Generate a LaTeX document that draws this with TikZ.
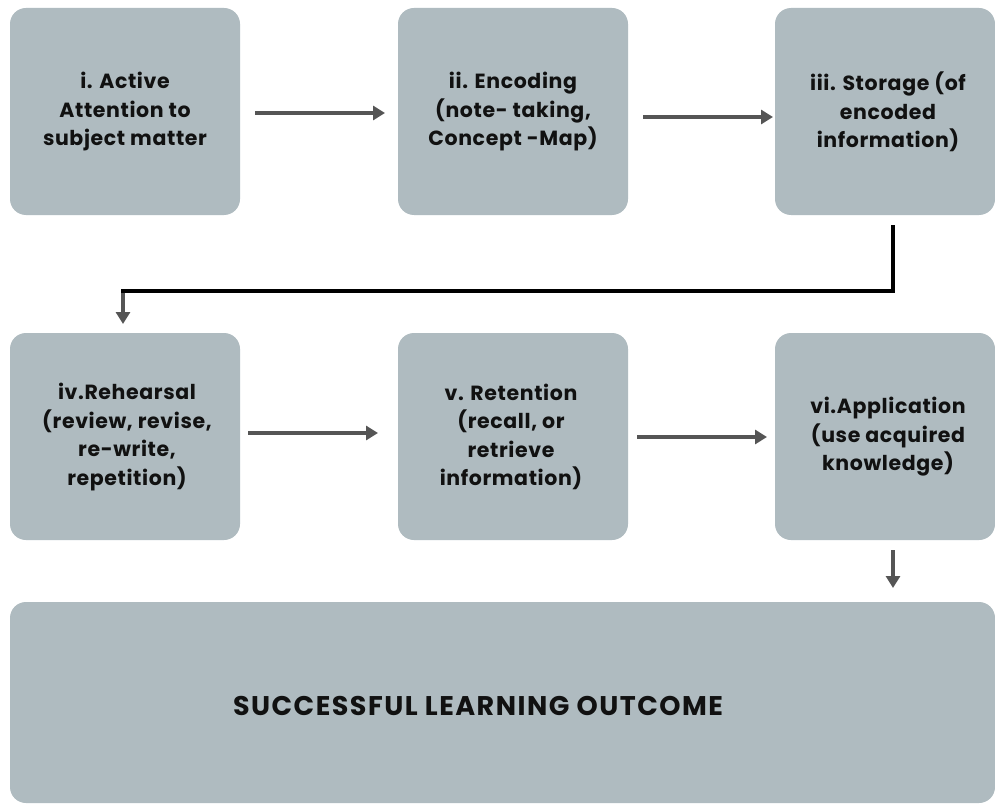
\documentclass[tikz,border=0pt]{standalone}
\usepackage{fontspec}
\setmainfont{Poppins}
\usetikzlibrary{arrows.meta}
\definecolor{boxfill}{HTML}{AFBBC0}
\definecolor{arrowgray}{HTML}{555555}
\definecolor{textdark}{HTML}{111111}
\begin{document}
\begin{tikzpicture}[x=1pt,y=-1pt,
  stagebox/.style={fill=boxfill,rounded corners=16pt,draw=none},
  stagetext/.style={align=center,text=textdark,inner sep=0pt,
    font=\bfseries\fontsize{20.5}{28.5}\selectfont\addfontfeatures{LetterSpace=3}},
  outcometext/.style={align=center,text=textdark,inner sep=0pt,
    font=\bfseries\fontsize{27}{30}\selectfont\addfontfeatures{LetterSpace=5.5}},
  flow/.style={draw=arrowgray,line width=3.6pt,-{Triangle[length=12pt,width=14pt]}},
  link/.style={draw=black,line width=3.6pt}]
\useasboundingbox (0,0) rectangle (995,805);
\fill[white] (0,0) rectangle (995,805);

% stage boxes
\path[stagebox] (10,8) rectangle (240,215);
\path[stagebox] (398,8) rectangle (628,215);
\path[stagebox] (775,8) rectangle (995,215);
\path[stagebox] (10,333) rectangle (240,540);
\path[stagebox] (398,333) rectangle (628,540);
\path[stagebox] (775,333) rectangle (995,540);
\path[stagebox] (10,602) rectangle (995,803);

% stage labels
\node[stagetext] (s1) at (125,112) {i. Active\\Attention to\\subject matter};
\node[stagetext] (s2) at (513,112) {ii. Encoding\\(note- taking,\\Concept -Map)};
\node[stagetext] (s3) at (888,112) {iii. Storage (of\\encoded\\information)};
\node[stagetext] (s4) at (127,437) {iv.Rehearsal\\(review, revise,\\re-write,\\repetition)};
\node[stagetext] (s5) at (511,437) {v. Retention\\(recall, or\\retrieve\\information)};
\node[stagetext] (s6) at (888,437) {vi.Application\\(use acquired\\knowledge)};
\node[outcometext] (s7) at (478,706) {SUCCESSFUL LEARNING OUTCOME};

% connector end points
\coordinate (a1s) at (255,113); \coordinate (a1e) at (385,113);
\coordinate (a2s) at (643,117); \coordinate (a2e) at (773,117);
\coordinate (a4s) at (248,433); \coordinate (a4e) at (378,433);
\coordinate (a5s) at (637,437); \coordinate (a5e) at (767,437);
\coordinate (a6s) at (893,550); \coordinate (a6e) at (893,588);
\coordinate (r0) at (893,225); \coordinate (r1) at (893,291);
\coordinate (r2) at (123,291); \coordinate (r3) at (123,324);

% arrows
\draw[flow] (a1s) -- (a1e);
\draw[flow] (a2s) -- (a2e);
\draw[flow] (a4s) -- (a4e);
\draw[flow] (a5s) -- (a5e);
\draw[flow] (a6s) -- (a6e);
\draw[link] (r0) -- (r1) -- ([xshift=-1.8pt]r2);
\draw[flow] ([yshift=-1.8pt]r2) -- (r3);
\end{tikzpicture}
\end{document}
